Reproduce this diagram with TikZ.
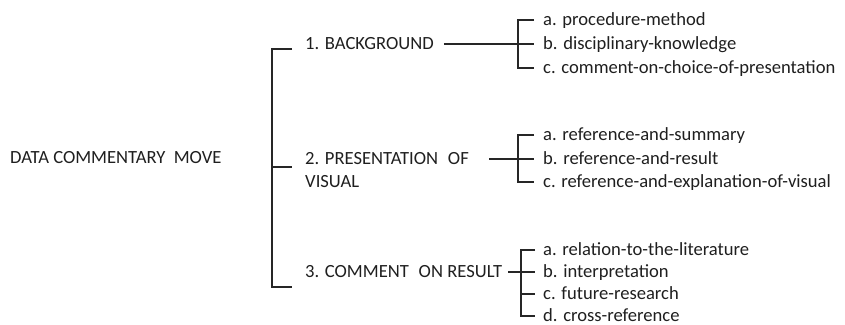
\documentclass[tikz,border=0pt]{standalone}
\usepackage{fontspec}
\setmainfont{Carlito}
\begin{document}
\begin{tikzpicture}[x=1pt,y=-1pt,
  lbl/.style={anchor=west,inner sep=0pt,text height=11pt,text depth=0pt,font=\fontsize{18.6}{22}\selectfont,text=black!88},
  ln/.style={line width=1.4pt,draw=black!85}]
\useasboundingbox (0,0) rectangle (845,324);
% root
\node[lbl] (root) at (10,158) {DATA COMMENTARY\hspace{0.45em}MOVE};
% level 1
\node[lbl] (n1) at (305,44) {1. BACKGROUND};
\node[lbl] (n2) at (305,159) {2. PRESENTATION\hspace{0.3em} OF};
\node[lbl] (n2b) at (305,182) {VISUAL};
\node[lbl] (n3) at (305,272) {3. COMMENT\hspace{0.3em} ON RESULT};
% level 2
\node[lbl] (a1) at (543,20) {a. procedure-method};
\node[lbl] (b1) at (543,44) {b. disciplinary-knowledge};
\node[lbl] (c1) at (543,68) {c. comment-on-choice-of-presentation};
\node[lbl] (a2) at (543,135) {a. reference-and-summary};
\node[lbl] (b2) at (543,159) {b. reference-and-result};
\node[lbl] (c2) at (543,182) {c. reference-and-explanation-of-visual};
\node[lbl] (a3) at (543,250) {a. relation-to-the-literature};
\node[lbl] (b3) at (543,272) {b. interpretation};
\node[lbl] (c3) at (543,294) {c. future-research};
\node[lbl] (d3) at (543,316) {d. cross-reference};
% main bracket
\coordinate (mX) at (272,0);
\coordinate (mT) at (292,49);
\coordinate (mM) at (292,167);
\coordinate (mB) at (292,287);
\draw[ln] (mT) -- (mT -| mX) -- (mB -| mX) -- (mB);
\draw[ln] (mM -| mX) -- (mM);
% group 1
\coordinate (v1) at (518,0);
\coordinate (e1) at (534,0);
\draw[ln] ([xshift=10pt]n1.east) -- (b1.west -| e1);
\draw[ln] (a1.west -| e1) -- (a1.west -| v1) -- (c1.west -| v1) -- (c1.west -| e1);
% group 2
\coordinate (v2) at (518,0);
\coordinate (e2) at (534,0);
\draw[ln] ([xshift=20pt]n2.east) -- (b2.west -| e2);
\draw[ln] (a2.west -| e2) -- (a2.west -| v2) -- (c2.west -| v2) -- (c2.west -| e2);
% group 3
\coordinate (v3) at (521,0);
\coordinate (e3) at (535,0);
\draw[ln] ([xshift=6pt]n3.east) -- (b3.west -| e3);
\draw[ln] (a3.west -| e3) -- (a3.west -| v3) -- (d3.west -| v3) -- (d3.west -| e3);
\draw[ln] (c3.west -| v3) -- (c3.west -| e3);
\end{tikzpicture}
\end{document}
